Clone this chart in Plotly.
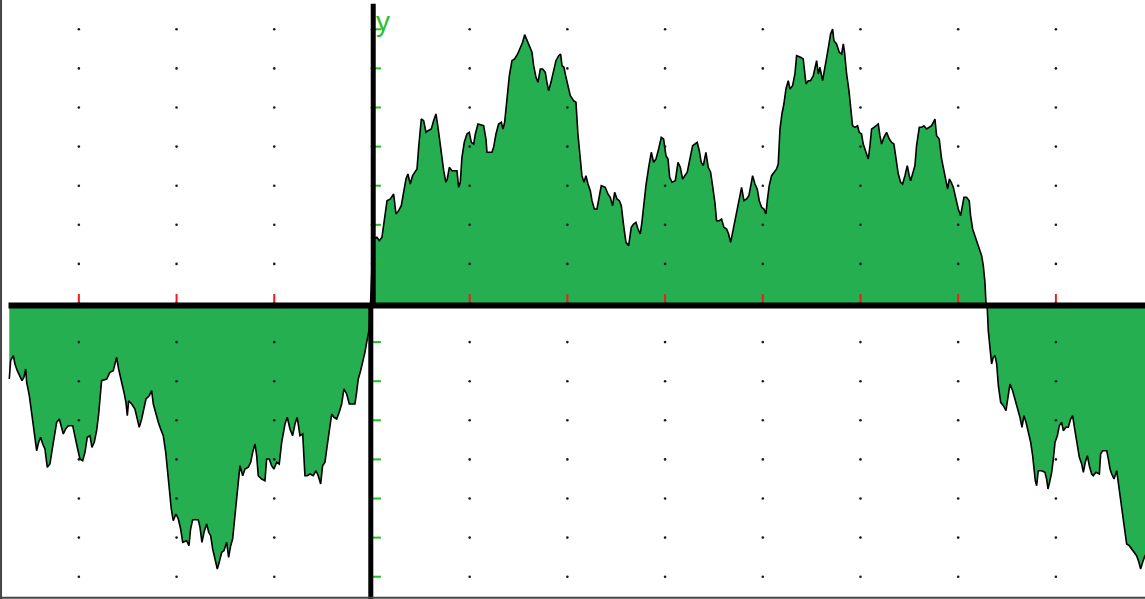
import plotly.graph_objects as go

# ---- data (grid units: one x grid step = 1, one y grid step = 1) ----
seg_left = [(-3.712,-1.944),(-3.698,-1.476),(-3.671,-1.348),(-3.654,-1.560),(-3.630,-1.731),(-3.603,-1.859),(-3.582,-1.987),(-3.562,-1.900),(-3.544,-1.688),(-3.534,-2.028),(-3.507,-2.371),(-3.477,-2.923),(-3.449,-3.522),(-3.432,-3.777),(-3.411,-3.563),(-3.391,-3.435),(-3.370,-3.606),(-3.347,-3.734),(-3.323,-4.202),(-3.296,-4.118),(-3.272,-3.734),(-3.255,-3.435),(-3.227,-3.051),(-3.200,-2.967),(-3.176,-3.179),(-3.159,-3.350),(-3.135,-3.222),(-3.108,-3.138),(-3.063,-3.138),(-3.040,-3.435),(-3.016,-3.690),(-2.989,-3.990),(-2.961,-4.033),(-2.937,-3.818),(-2.914,-3.435),(-2.886,-3.394),(-2.866,-3.690),(-2.842,-3.563),(-2.818,-3.266),(-2.797,-2.839),(-2.784,-2.499),(-2.767,-1.987),(-2.715,-1.944),(-2.682,-1.772),(-2.648,-1.731),(-2.613,-1.389),(-2.593,-1.688),(-2.566,-1.944),(-2.538,-2.284),(-2.518,-2.540),(-2.504,-2.882),(-2.490,-2.499),(-2.459,-2.583),(-2.426,-2.711),(-2.402,-3.010),(-2.382,-3.179),(-2.357,-2.967),(-2.334,-2.667),(-2.313,-2.455),(-2.279,-2.371),(-2.255,-2.243),(-2.238,-2.583),(-2.214,-2.839),(-2.187,-3.051),(-2.163,-3.222),(-2.136,-3.394),(-2.111,-3.818),(-2.091,-4.330),(-2.075,-4.841),(-2.054,-5.268),(-2.034,-5.568),(-2.006,-5.396),(-1.982,-5.524),(-1.958,-5.780),(-1.937,-6.120),(-1.897,-6.079),(-1.873,-6.207),(-1.856,-5.780),(-1.835,-5.542),(-1.778,-5.542),(-1.760,-5.736),(-1.740,-6.120),(-1.719,-5.864),(-1.692,-5.652),(-1.671,-5.864),(-1.651,-5.951),(-1.630,-6.291),(-1.607,-6.591),(-1.583,-6.803),(-1.563,-6.632),(-1.538,-6.376),(-1.515,-6.335),(-1.487,-6.120),(-1.467,-6.504),(-1.446,-6.207),(-1.426,-6.036),(-1.409,-5.609),(-1.385,-5.097),(-1.364,-4.672),(-1.351,-4.161),(-1.323,-4.417),(-1.300,-4.245),(-1.266,-4.202),(-1.241,-4.074),(-1.221,-3.818),(-1.197,-3.606),(-1.180,-3.905),(-1.164,-4.417),(-1.129,-4.501),(-1.095,-4.545),(-1.078,-3.990),(-1.051,-3.990),(-1.027,-4.161),(-1.003,-4.245),(-0.975,-4.074),(-0.949,-4.118),(-0.924,-3.563),(-0.890,-3.095),(-0.867,-2.923),(-0.839,-3.222),(-0.812,-3.394),(-0.788,-3.095),(-0.765,-2.923),(-0.737,-3.394),(-0.709,-3.350),(-0.686,-4.417),(-0.662,-4.417),(-0.635,-4.373),(-0.601,-4.417),(-0.573,-4.289),(-0.550,-4.417),(-0.525,-4.629),(-0.505,-4.161),(-0.481,-4.074),(-0.458,-3.650),(-0.430,-3.095),(-0.412,-2.839),(-0.389,-2.923),(-0.361,-2.967),(-0.335,-2.795),(-0.310,-2.583),(-0.287,-2.199),(-0.259,-2.327),(-0.232,-2.583),(-0.174,-2.583),(-0.157,-2.284),(-0.140,-1.944),(-0.116,-1.731),(-0.095,-1.517),(-0.072,-1.261),(-0.054,-1.005),(-0.028,-0.665),(-0.015,-0.050)]

seg_mid_a = [(0.010,1.630),(0.051,1.680),(0.075,1.594),(0.102,1.680),(0.130,2.191),(0.154,2.617),(0.188,2.660),(0.222,2.788),(0.246,2.276),(0.273,2.361),(0.300,2.488),(0.324,2.872),(0.348,3.171),(0.368,3.299),(0.392,3.043),(0.416,3.256),(0.437,3.343),(0.461,3.427),(0.478,3.982),(0.505,4.706),(0.529,4.662),(0.553,4.366),(0.573,4.407),(0.607,4.450),(0.631,4.662),(0.655,4.834),(0.676,4.493),(0.699,4.066),(0.716,3.639),(0.734,3.384),(0.757,3.087),(0.771,3.171),(0.792,3.471),(0.819,3.384),(0.870,3.384),(0.887,2.959),(0.904,3.087),(0.921,3.726),(0.945,4.110),(0.972,4.322),(0.996,4.366),(1.017,4.110),(1.041,4.066),(1.058,4.322),(1.085,4.578),(1.143,4.534),(1.167,4.194),(1.177,3.854),(1.228,3.854),(1.245,3.982),(1.269,4.322),(1.296,4.578),(1.324,4.621),(1.341,4.450),(1.358,4.621),(1.382,5.302),(1.406,5.813),(1.433,6.197),(1.460,6.240),(1.491,6.368),(1.518,6.522),(1.542,6.667),(1.563,6.862),(1.586,6.708),(1.610,6.580),(1.638,6.412),(1.655,6.069),(1.679,5.772),(1.699,5.644),(1.723,5.985),(1.747,5.985),(1.774,5.900),(1.791,5.644),(1.808,5.430),(1.832,5.644),(1.859,5.941),(1.883,6.197),(1.911,6.325),(1.931,6.368),(1.945,6.069),(1.965,6.028),(1.986,5.772),(2.006,5.557),(2.030,5.302),(2.064,5.174),(2.088,5.133),(2.108,4.322),(2.129,3.726),(2.149,3.256),(2.170,3.087),(2.190,3.256),(2.211,3.043),(2.235,2.872),(2.252,2.617),(2.276,2.404),(2.303,2.404),(2.327,2.788),(2.347,3.000),(2.388,2.959),(2.415,2.788),(2.439,2.703),(2.463,2.488),(2.484,2.831),(2.508,2.660),(2.532,2.617),(2.552,2.488),(2.576,1.977),(2.600,1.552),(2.627,1.465),(2.654,1.936),(2.678,2.020),(2.702,2.064),(2.723,1.893),(2.746,1.765),(2.763,2.064),(2.781,2.532),(2.804,3.000),(2.832,3.471),(2.859,3.854),(2.883,3.598),(2.907,3.683),(2.934,3.939),(2.961,4.238),(2.985,4.194),(3.009,3.767),(3.030,3.683),(3.047,3.215),(3.071,3.087),(3.105,3.128),(3.132,3.598),(3.156,3.471)]

seg_mid_b = [(3.179,3.171),(3.203,3.256),(3.227,3.343),(3.254,3.683),(3.282,4.023),(3.306,4.066),(3.329,4.110),(3.350,3.895),(3.370,3.598),(3.391,3.511),(3.418,3.854),(3.442,3.471),(3.466,3.343),(3.486,3.000),(3.510,2.575),(3.527,2.105),(3.555,2.105),(3.578,2.148),(3.602,1.936),(3.630,1.893),(3.650,1.765),(3.671,1.552),(3.691,1.808),(3.715,2.064),(3.739,2.404),(3.759,2.660),(3.783,2.959),(3.807,2.616),(3.834,2.660),(3.858,2.744),(3.875,2.959),(3.896,3.256),(3.920,3.043),(3.943,2.916),(3.964,2.616),(3.988,2.448),(4.012,2.404),(4.032,2.276),(4.046,2.616),(4.066,3.000),(4.090,3.256),(4.114,3.343),(4.141,3.427),(4.158,3.555),(4.176,4.450),(4.196,4.834),(4.216,5.089),(4.237,5.473),(4.261,5.685),(4.278,5.473),(4.305,5.557),(4.329,5.857),(4.346,6.325),(4.387,6.284),(4.414,6.240),(4.431,5.857),(4.442,5.601),(4.465,5.685),(4.489,5.685),(4.517,5.813),(4.534,6.028),(4.551,6.197),(4.568,5.857),(4.585,6.028),(4.612,5.685),(4.629,5.900),(4.646,6.197),(4.663,6.412),(4.680,6.667),(4.694,6.880),(4.715,7.008),(4.728,6.708),(4.755,6.624),(4.783,6.412),(4.807,6.368),(4.824,6.624),(4.837,6.412),(4.858,5.857),(4.882,5.430),(4.899,5.046),(4.919,4.534),(4.943,4.493),(4.970,4.534),(4.987,4.366),(5.011,4.322),(5.028,4.066),(5.056,3.854),(5.080,3.683),(5.097,4.023),(5.114,4.450),(5.138,4.493),(5.165,4.534),(5.182,4.578),(5.199,4.279),(5.216,4.066),(5.240,4.238),(5.267,4.366),(5.295,4.194),(5.318,4.110),(5.342,4.066),(5.363,3.683),(5.387,3.299),(5.411,3.087),(5.431,3.043),(5.455,3.256),(5.479,3.511),(5.499,3.256),(5.513,3.128),(5.533,3.299),(5.557,3.511),(5.574,4.023),(5.602,4.493),(5.625,4.493),(5.649,4.534),(5.677,4.450),(5.704,4.493),(5.728,4.534),(5.745,4.621),(5.762,4.706),(5.779,4.279),(5.806,4.194),(5.830,3.683),(5.847,3.471),(5.871,3.087),(5.892,2.916),(5.909,3.171),(5.929,3.087),(5.950,2.959),(5.977,2.660),(6.001,2.404),(6.025,2.233),(6.045,2.488),(6.059,2.703),(6.086,2.703),(6.113,2.616),(6.127,2.233),(6.148,1.893),(6.171,1.721),(6.195,1.552),(6.223,1.381),(6.240,1.210),(6.257,0.954),(6.274,0.529),(6.284,0.018)]

seg_right = [(6.298,-0.153),(6.308,-0.708),(6.325,-1.176),(6.342,-1.560),(6.359,-1.389),(6.377,-1.348),(6.394,-1.560),(6.411,-2.115),(6.435,-2.540),(6.462,-2.627),(6.489,-2.754),(6.513,-2.371),(6.530,-2.072),(6.557,-2.243),(6.581,-2.455),(6.605,-2.711),(6.632,-2.923),(6.653,-3.179),(6.673,-2.882),(6.694,-3.051),(6.718,-3.307),(6.742,-3.563),(6.762,-3.905),(6.776,-4.245),(6.789,-4.545),(6.803,-4.673),(6.820,-4.289),(6.854,-4.289),(6.888,-4.330),(6.905,-4.501),(6.919,-4.757),(6.939,-4.545),(6.957,-4.330),(6.974,-3.990),(6.991,-3.563),(7.015,-3.394),(7.035,-3.138),(7.059,-3.051),(7.076,-3.266),(7.103,-3.179),(7.127,-3.179),(7.151,-2.967),(7.171,-2.882),(7.195,-3.266),(7.219,-3.690),(7.240,-3.946),(7.264,-4.118),(7.281,-4.330),(7.301,-4.074),(7.322,-3.905),(7.342,-4.161),(7.366,-4.373),(7.383,-4.417),(7.410,-4.330),(7.445,-4.373),(7.458,-3.862),(7.479,-3.777),(7.520,-3.777),(7.537,-3.990),(7.554,-4.245),(7.571,-4.373),(7.595,-4.501),(7.622,-4.289),(7.649,-4.757),(7.673,-5.184),(7.697,-5.696),(7.724,-6.164),(7.751,-6.207),(7.775,-6.291),(7.799,-6.376),(7.826,-6.463),(7.850,-6.632),(7.867,-6.803),(7.888,-6.632),(7.912,-6.463),(7.940,-6.380)]

x_ticks = [-3, -2, -1, 1, 2, 3, 4, 5, 6, 7]
y_ticks = [-7, -6, -5, -4, -3, -2, -1, 1, 2, 3, 4, 5, 6, 7]
x_grid = [-3, -2, -1, 0, 1, 2, 3, 4, 5, 6, 7]
y_grid = [-7, -6, -5, -4, -3, -2, -1, 0, 1, 2, 3, 4, 5, 6, 7]
axis_label = "y"

X_RANGE = [-3.807, 7.912]
Y_RANGE = [-7.570, 7.749]

FILL = "rgb(37,175,80)"
TICK_GREEN = "#1fc01f"
TICK_RED = "#ee1c1c"

path = seg_left + seg_mid_a + seg_mid_b + seg_right
px_ = [p[0] for p in path]
py_ = [p[1] for p in path]

fig = go.Figure()
fig.add_trace(go.Scatter(
    x=px_, y=py_, mode="lines", fill="tozeroy",
    fillcolor=FILL, line=dict(color="black", width=1.6),
    hoverinfo="skip", showlegend=False))

gx = [x for y in y_grid for x in x_grid]
gy = [y for y in y_grid for x in x_grid]
fig.add_trace(go.Scatter(
    x=gx, y=gy, mode="markers",
    marker=dict(color="#1a1a1a", size=2.6, line=dict(width=0)),
    hoverinfo="skip", showlegend=False))

shapes = []
# green ticks on the y axis (right side)
for v in y_ticks:
    shapes.append(dict(type="line", xref="x", yref="y", x0=0, x1=0.092, y0=v, y1=v,
                       line=dict(color=TICK_GREEN, width=2), layer="above"))
# red ticks on the x axis (pointing up)
for u in x_ticks:
    shapes.append(dict(type="line", xref="x", yref="y", x0=u, x1=u, y0=0, y1=0.23,
                       line=dict(color=TICK_RED, width=2), layer="above"))
# x axis line
shapes.append(dict(type="line", xref="x", yref="y", x0=-3.72, x1=8.0, y0=-0.064, y1=-0.064,
                   line=dict(color="black", width=6), layer="above"))
# y axis line (upper and lower parts)
shapes.append(dict(type="line", xref="x", yref="y", x0=0.013, x1=0.013, y0=-0.064, y1=7.65,
                   line=dict(color="black", width=5), layer="above"))
shapes.append(dict(type="line", xref="x", yref="y", x0=-0.012, x1=-0.012, y0=-7.7, y1=-0.064,
                   line=dict(color="black", width=5), layer="above"))
# frame lines (left and bottom)
shapes.append(dict(type="line", xref="paper", yref="paper", x0=0.0009, x1=0.0009, y0=0, y1=1,
                   line=dict(color="#444444", width=2), layer="above"))
shapes.append(dict(type="line", xref="paper", yref="paper", x0=0, x1=1, y0=0.002, y1=0.002,
                   line=dict(color="#444444", width=2), layer="above"))

fig.update_layout(
    width=1145, height=599,
    margin=dict(l=0, r=0, t=0, b=0),
    paper_bgcolor="white", plot_bgcolor="white",
    showlegend=False,
    shapes=shapes,
    xaxis=dict(range=X_RANGE, showgrid=False, zeroline=False, showticklabels=False,
               ticks="", showline=False, fixedrange=True),
    yaxis=dict(range=Y_RANGE, showgrid=False, zeroline=False, showticklabels=False,
               ticks="", showline=False, fixedrange=True),
    annotations=[dict(text=axis_label, xref="paper", yref="paper",
                      x=383 / 1145, y=1 - 22 / 599, xanchor="center", yanchor="middle",
                      showarrow=False,
                      font=dict(family="Liberation Sans, Arial, sans-serif", size=28,
                                color="#2cbf2c"))],
)

fig.write_html("out.html", config={"displayModeBar": False})
